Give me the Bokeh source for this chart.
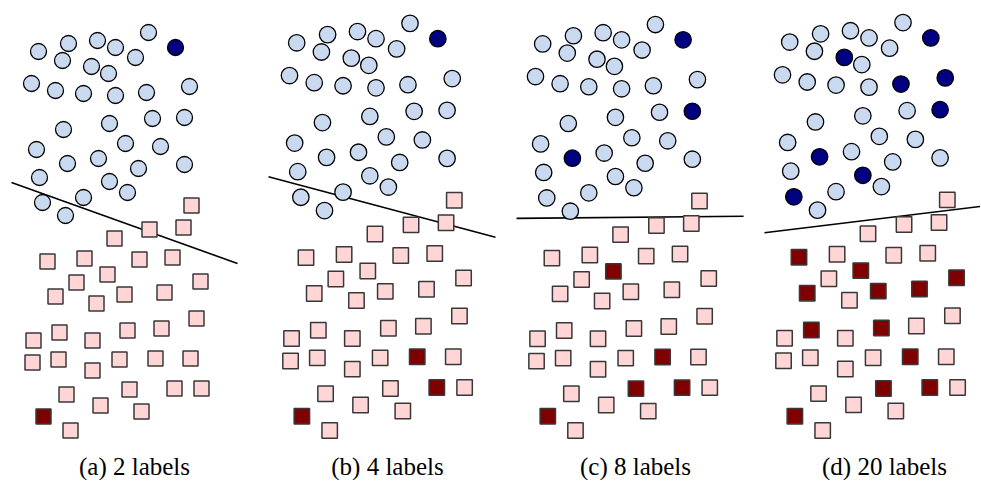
from bokeh.plotting import figure
from bokeh.layouts import row
from bokeh.models import Range1d, Label, ColumnDataSource
from bokeh.embed import file_html
from bokeh.resources import INLINE

# ---- data (shared point layout, in panel-(a) units, y grows downward) ----
circle_x = [38, 68, 97, 115, 148, 175, 62, 91, 108, 135, 31, 55, 83, 115, 146, 189,
            63, 109, 152, 184, 36, 125, 160, 67, 98, 138, 184, 39, 109, 127, 83, 42, 65]
circle_y = [51, 43, 40, 47, 32, 47, 60, 66, 73, 57, 83, 90, 93, 95, 92, 86,
            129, 123, 118, 117, 149, 143, 146, 163, 158, 168, 164, 177, 181, 192, 197, 202, 215]

square_x = [191, 149, 183, 114, 47, 84, 139, 172, 76, 107, 200, 55, 96, 124, 164, 196,
            33, 59, 92, 127, 161, 32, 58, 92, 119, 155, 190, 66, 129, 174, 201, 100, 141, 43, 70]
square_y = [205, 229, 227, 238, 261, 258, 259, 257, 282, 274, 281, 296, 303, 294, 292, 318,
            340, 332, 340, 330, 328, 362, 359, 370, 359, 358, 358, 394, 389, 388, 388, 405, 411, 416, 430]

captions = ["(a) 2 labels", "(b) 4 labels", "(c) 8 labels", "(d) 20 labels"]

# labelled points per panel, given by their coordinates in the shared layout
labelled_circles = [
    [(175, 47)],
    [(175, 47)],
    [(175, 47), (184, 117), (67, 163)],
    [(175, 47), (91, 66), (146, 92), (189, 86), (184, 117), (67, 163), (109, 181), (42, 202)],
]
labelled_squares = [
    [(43, 416)],
    [(43, 416), (155, 358), (174, 388)],
    [(107, 274), (155, 358), (129, 389), (174, 388), (43, 416)],
    [(47, 261), (107, 274), (55, 296), (124, 294), (164, 292), (200, 281), (59, 332),
     (127, 330), (155, 358), (129, 389), (174, 388), (43, 416)],
]

# separating line per panel: (x0, y0, x1, y1)
sep_lines = [
    (11, 182, 237, 263),
    (10.6, 182, 231, 241),
    (12.5, 222, 234, 220),
    (13.5, 237, 226, 211),
]

# ---- layout (page pixels) ----
panel_left = [0, 258, 508, 754]
panel_width = [258, 250, 246, 226]
anchor_x = [31, 289, 535, 782]          # page x of layout x=31
scale_x = [1.0, 1.03, 1.025, 1.03]
scale_y = [1.0, 1.023, 1.02, 1.025]
caption_cx = [134, 387, 635, 884]
caption_mid = 466
TOP, H = 0, 480

LIGHT_BLUE = "#c9d9ef"
NAVY = "#000080"
PINK = "#ffd5d6"
MAROON = "#800000"

figs = []
for i in range(4):
    sx, sy = scale_x[i], scale_y[i]

    def xa(p):
        return 31 + (p - anchor_x[i]) / sx

    def ya(p):
        return 430 - (430 - p) / sy

    p = figure(width=panel_width[i], height=H, output_backend="svg", toolbar_location=None,
               x_range=Range1d(xa(panel_left[i]), xa(panel_left[i] + panel_width[i])),
               y_range=Range1d(ya(TOP + H), ya(TOP)),
               min_border=0, min_border_left=0, min_border_right=0,
               min_border_top=0, min_border_bottom=0)
    p.axis.visible = False
    p.grid.visible = False
    p.outline_line_color = None
    p.background_fill_color = "white"
    p.border_fill_color = "white"

    lc = set(labelled_circles[i])
    ls = set(labelled_squares[i])
    cfill = [NAVY if (x, y) in lc else LIGHT_BLUE for x, y in zip(circle_x, circle_y)]
    sfill = [MAROON if (x, y) in ls else PINK for x, y in zip(square_x, square_y)]

    x0, y0, x1, y1 = sep_lines[i]
    p.line([x0, x1], [y0, y1], line_color="black", line_width=1.6)

    csrc = ColumnDataSource(dict(x=circle_x, y=circle_y, c=cfill))
    ssrc = ColumnDataSource(dict(x=square_x, y=square_y, c=sfill))
    p.scatter("x", "y", source=csrc, marker="circle", size=16 * sx,
              fill_color="c", line_color="black", line_width=1.3)
    p.scatter("x", "y", source=ssrc, marker="square", size=15 * sx,
              fill_color="c", line_color="#383838", line_width=1.5)

    p.add_layout(Label(x=xa(caption_cx[i]), y=ya(caption_mid), text=captions[i],
                       text_align="center", text_baseline="middle",
                       text_font="Liberation Serif", text_font_size="25px",
                       text_color="black"))
    figs.append(p)

layout = row(*figs, spacing=0)
open("out.html", "w").write(file_html(layout, INLINE))
